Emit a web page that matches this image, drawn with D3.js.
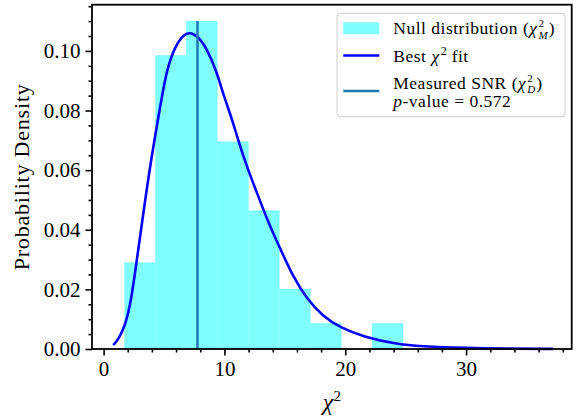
<!DOCTYPE html>
<html>
<head>
<meta charset="utf-8">
<script src="https://cdn.jsdelivr.net/npm/d3@7"></script>
<style>
  html, body { margin: 0; padding: 0; background: #fff; }
  svg { display: block; }
  text { font-family: "Liberation Serif", "DejaVu Serif", serif; fill: #000; }
</style>
</head>
<body>
<svg id="chart" width="578" height="419"></svg>
<script>
// Histogram of the null distribution: bin edges and density per bin
const binEdges = [1.74, 4.30, 6.86, 9.42, 11.98, 14.54, 17.10, 19.66, 22.22, 24.78];
const binDensity = [0.0290, 0.0985, 0.1100, 0.0695, 0.0464, 0.0201, 0.0086, 0.0, 0.0086];

// Best chi-square fit, sampled along the curve
const fitX = [0.80, 1.21, 1.76, 2.18, 2.59, 2.87, 3.09, 3.83, 4.66, 5.21, 5.90, 6.59, 7.14, 7.83, 8.53,
              9.35, 9.77, 10.31, 10.73, 11.56, 12.38, 13.77, 14.59, 15.70, 16.80, 18.18, 19.56, 21.49,
              24.25, 26.20, 30.00, 33.50, 37.20];
const fitY = [0.0013, 0.0031, 0.0076, 0.0142, 0.0250, 0.0335, 0.0397, 0.0612, 0.0808, 0.0936, 0.1014,
              0.1054, 0.1063, 0.1048, 0.1009, 0.0931, 0.0872, 0.0808, 0.0757, 0.0645, 0.0556, 0.0410,
              0.0340, 0.0240, 0.0170, 0.0108, 0.0073, 0.0041, 0.0016, 0.0009, 0.0003, 0.0001, 0.00003];

// Measured value and its top extent
const measuredX = 7.77;
const measuredTop = 0.1100;

const xMajorTicks = [0, 10, 20, 30];
const yMajorTicks = [0.00, 0.02, 0.04, 0.06, 0.08, 0.10];

const svg = d3.select("#chart");
const frame = { left: 92, right: 571.7, top: 4.7, bottom: 349 };

const x = d3.scaleLinear().domain([-0.96, 38.74]).range([frame.left, frame.right]);
const y = d3.scaleLinear().domain([0, 0.1155]).range([frame.bottom, frame.top]);

// Histogram bars
const bins = binDensity.map((d, i) => ({ x0: binEdges[i], x1: binEdges[i + 1], d }));
svg.append("g").selectAll("rect").data(bins.filter(b => b.d > 0)).join("rect")
  .attr("x", b => x(b.x0))
  .attr("width", b => x(b.x1) - x(b.x0))
  .attr("y", b => y(b.d))
  .attr("height", b => y(0) - y(b.d))
  .attr("fill", "#80ffff")
  .attr("stroke", "#80ffff")
  .attr("stroke-width", 0.4);

// Fitted curve
const fitPts = fitX.map((v, i) => [v, fitY[i]]);
svg.append("path")
  .datum(fitPts)
  .attr("fill", "none")
  .attr("stroke", "#0000ff")
  .attr("stroke-width", 2.6)
  .attr("d", d3.line().x(d => x(d[0])).y(d => y(d[1])).curve(d3.curveBasis));

// Measured value line
svg.append("line")
  .attr("x1", x(measuredX)).attr("x2", x(measuredX))
  .attr("y1", y(0)).attr("y2", y(measuredTop))
  .attr("stroke", "#1f77b4").attr("stroke-width", 2.5);

// Axes
const xMinor = d3.range(0, 39, 2).filter(v => !xMajorTicks.includes(v));
const yMinor = d3.range(0, 0.1155, 0.005).map(v => +v.toFixed(3)).filter(v => !yMajorTicks.some(t => Math.abs(t - v) < 1e-9));

function styleAxis(g) {
  g.select(".domain").remove();
  g.selectAll("line").attr("stroke", "#000").attr("stroke-width", 1.6);
  g.selectAll("text").style("font-family", "'Liberation Serif', serif").style("font-size", "21px");
}

svg.append("g").attr("transform", `translate(0,${frame.bottom})`)
  .call(d3.axisBottom(x).tickValues(xMinor).tickSize(3.5).tickFormat(""))
  .call(styleAxis);
svg.append("g").attr("transform", `translate(0,${frame.bottom})`)
  .call(d3.axisBottom(x).tickValues(xMajorTicks).tickSize(6.5).tickPadding(6).tickFormat(d3.format("d")))
  .call(styleAxis);
svg.append("g").attr("transform", `translate(${frame.left},0)`)
  .call(d3.axisLeft(y).tickValues(yMinor).tickSize(3.5).tickFormat(""))
  .call(styleAxis);
svg.append("g").attr("transform", `translate(${frame.left},0)`)
  .call(d3.axisLeft(y).tickValues(yMajorTicks).tickSize(6.5).tickPadding(5).tickFormat(d3.format(".2f")))
  .call(styleAxis);

// Frame
svg.append("rect")
  .attr("x", frame.left).attr("y", frame.top)
  .attr("width", frame.right - frame.left).attr("height", frame.bottom - frame.top)
  .attr("fill", "none").attr("stroke", "#000").attr("stroke-width", 1.8);

// Axis labels
svg.append("text")
  .attr("transform", `translate(29,${(frame.top + frame.bottom) / 2}) rotate(-90)`)
  .attr("text-anchor", "middle")
  .style("font-size", "22px")
  .style("letter-spacing", "0.8px")
  .text("Probability Density");

const xl = svg.append("text")
  .attr("x", (frame.left + frame.right) / 2)
  .attr("y", 410)
  .attr("text-anchor", "middle")
  .style("font-size", "24px");
xl.append("tspan").style("font-style", "italic").text("χ");
xl.append("tspan").attr("dy", -9).style("font-size", "15px").text("2");

// Legend
const lg = svg.append("g");
lg.append("rect")
  .attr("x", 337).attr("y", 13.3).attr("width", 228).attr("height", 103.4)
  .attr("rx", 3).attr("fill", "#fff").attr("fill-opacity", 0.8)
  .attr("stroke", "#cccccc").attr("stroke-width", 1);

const lx = 343.3, tx = 393.3, fs = 17.5, scriptFs = 11, gap = 5;
lg.append("rect").attr("x", lx).attr("y", 22.3).attr("width", 36).attr("height", 12).attr("fill", "#80ffff");
lg.append("line").attr("x1", lx).attr("x2", lx + 36).attr("y1", 55.5).attr("y2", 55.5)
  .attr("stroke", "#0000ff").attr("stroke-width", 2.6);
lg.append("line").attr("x1", lx).attr("x2", lx + 36).attr("y1", 91).attr("y2", 91)
  .attr("stroke", "#1f77b4").attr("stroke-width", 2.5);

// Lays out a line of legend text piece by piece from left to right.
// Each piece: [string, {italic, size, dy, pad, noAdvance}]
function legendLine(yPos, pieces) {
  let cx = tx;
  pieces.forEach(([str, o = {}]) => {
    const size = o.size || fs;
    const t = lg.append("text")
      .attr("x", cx)
      .attr("y", yPos + (o.dy || 0))
      .style("font-size", size + "px")
      .style("letter-spacing", o.size ? "0px" : "0.5px")
      .text(str);
    if (o.italic) t.style("font-style", "italic");
    const w = t.node().getComputedTextLength();
    if (!o.noAdvance) cx = cx + w + (o.pad || 0);
  });
}

const sup = { size: scriptFs, dy: -7, noAdvance: true };
legendLine(34.3, [
  ["Null distribution", { pad: gap }], ["("], ["χ", { italic: true, pad: 1 }],
  ["2", sup], ["M", { size: scriptFs, dy: 4.5, italic: true, pad: 1 }], [")"]
]);
legendLine(61.7, [
  ["Best", { pad: gap }], ["χ", { italic: true, pad: 1 }], ["2", { size: 12, dy: -7, pad: gap }], ["fit"]
]);
legendLine(88.5, [
  ["Measured SNR", { pad: gap }], ["("], ["χ", { italic: true, pad: 1 }],
  ["2", sup], ["D", { size: scriptFs, dy: 4.5, italic: true, pad: 1 }], [")"]
]);
legendLine(107, [["p", { italic: true }], ["-value = 0.572"]]);
</script>
</body>
</html>
